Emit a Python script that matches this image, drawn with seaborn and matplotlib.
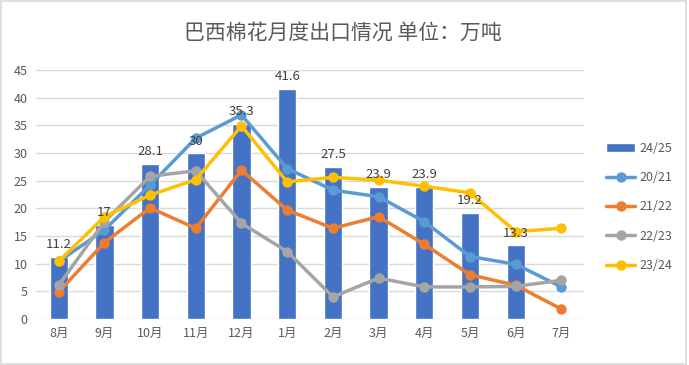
import numpy as np
import pandas as pd
import seaborn as sns
from matplotlib import pyplot as plt
from matplotlib.patches import Rectangle

sns.set_style('white')
plt.rcParams['font.family'] = ['Noto Sans CJK SC', 'DejaVu Sans']

# 数据
months = ['8月', '9月', '10月', '11月', '12月', '1月', '2月', '3月', '4月', '5月', '6月', '7月']
s2425 = [11.2, 17, 28.1, 30, 35.3, 41.6, 27.5, 23.9, 23.9, 19.2, 13.3, np.nan]
s2021 = [10.4, 16.1, 24.2, 32.7, 36.9, 27.2, 23.3, 22.1, 17.6, 11.3, 9.9, 5.8]
s2122 = [4.9, 13.8, 20.1, 16.4, 26.9, 19.7, 16.4, 18.5, 13.5, 8.0, 6.1, 1.8]
s2223 = [6.1, 17.6, 25.8, 26.8, 17.3, 12.2, 4.0, 7.4, 5.8, 5.8, 5.9, 7.0]
s2324 = [10.4, 18.5, 22.4, 25.2, 34.9, 24.8, 25.6, 25.1, 24.0, 22.8, 15.8, 16.4]

lines = {'20/21': s2021, '21/22': s2122, '22/23': s2223, '23/24': s2324}
line_colors = {'20/21': '#5B9BD5', '21/22': '#ED7D31', '22/23': '#A5A5A5', '23/24': '#FFC000'}

fig = plt.figure(figsize=(6.89, 3.65), dpi=100)
ax = fig.add_axes([0.052, 0.126, 0.796, 0.682])

bar_df = pd.DataFrame({'month': months, 'value': s2425})
sns.barplot(data=bar_df, x='month', y='value', color='#4472C4', saturation=1,
            width=0.4, ax=ax, label='24/25')

long_df = pd.DataFrame([(i, k, v) for k, vals in lines.items() for i, v in enumerate(vals)],
                       columns=['pos', 'season', 'value'])
sns.lineplot(data=long_df, x='pos', y='value', hue='season', palette=line_colors,
             marker='o', markersize=7.5, markeredgewidth=0, linewidth=2.5, ax=ax)

# 柱顶数值
for i, v in enumerate(s2425):
    if not np.isnan(v):
        ax.annotate(f'{v:g}', (i, v), xytext=(0, 4), textcoords='offset points',
                    ha='center', va='bottom', fontsize=9.5, color='#404040')

ax.set_xlim(-0.5, 11.5)
ax.set_ylim(0, 45)
ax.set_yticks(range(0, 46, 5))
ax.set_xticks(range(12))
ax.set_xticklabels(months)
ax.set_xlabel('')
ax.set_ylabel('')
ax.grid(True, axis='y', color='#D9D9D9', linewidth=1)
ax.set_axisbelow(True)
for sp in ax.spines.values():
    sp.set_visible(False)
ax.tick_params(axis='both', length=0, labelsize=9, colors='#595959', pad=6)

handles, labels = ax.get_legend_handles_labels()
order = ['24/25', '20/21', '21/22', '22/23', '23/24']
hmap = dict(zip(labels, handles))
ax.legend([hmap[l] for l in order], order, loc='center left', bbox_to_anchor=(1.02, 0.45),
          frameon=False, fontsize=9, labelcolor='#595959', labelspacing=1.3,
          handlelength=2.3, handletextpad=0.3)

fig.suptitle('巴西棉花月度出口情况 单位：万吨', x=0.497, y=0.94, fontsize=15, color='#595959')
fig.patches.append(Rectangle((0.002, 0.004), 0.994, 0.992, transform=fig.transFigure,
                             fill=False, edgecolor='#D9D9D9', linewidth=1.2))

plt.savefig('out.png', dpi=100)
plt.close()
